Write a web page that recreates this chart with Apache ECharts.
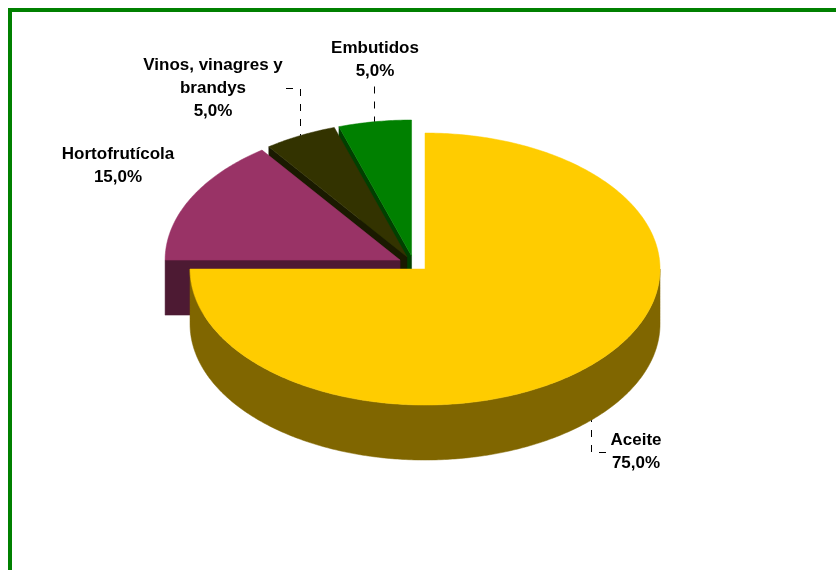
<!DOCTYPE html>
<html>
<head>
<meta charset="utf-8">
<style>html,body{margin:0;padding:0;background:#fff;overflow:hidden}#c{width:836px;height:570px}</style>
<script src="https://cdn.jsdelivr.net/npm/echarts@6/dist/echarts.min.js"></script>
</head>
<body>
<div id="c"></div>
<script>
// Data
const categories = ['Aceite', 'Hortofrutícola', 'Vinos, vinagres y\nbrandys', 'Embutidos'];
const values = [75, 15, 5, 5];

// Styles
const topColors = ['#FFCC00', '#993366', '#333300', '#008000'];
const sideColors = ['#806600', '#4D1A33', '#1A1A00', '#004000'];

// Pie projection
const base = {x: 414, y: 263.6}, rx = 235, ry = 136, depth = 55;
const explodeX = 15.6, explodeY = 7.67;

// Label layout (centre of text block; leader end relative to slice)
const labelPos = [[636, 452], [118, 166], [213, 88.5], [375, 60]];
const leaderY = [452.5, null, 88.5, 86.5]; // vertical run ends at this y
const leaderTick = [14.5, 0, -14.5, 0];    // then a horizontal run of this length

const total = values.reduce((a, b) => a + b, 0);
const rad = d => d * Math.PI / 180;
function sliceGeom(i) {
  let before = 0;
  for (let k = 0; k < i; k++) before += values[k];
  const t0 = before / total * 360, t1 = (before + values[i]) / total * 360, mid = (t0 + t1) / 2;
  const cx = base.x + explodeX * Math.sin(rad(mid));
  const cy = base.y - explodeY * Math.cos(rad(mid));
  const at = (t, dz) => [cx + rx * Math.sin(rad(t)), cy - ry * Math.cos(rad(t)) + (dz || 0)];
  return {t0, t1, mid, cx, cy, at};
}
function arc(g, a, b, dz) {
  const pts = [], n = Math.max(2, Math.ceil((b - a) * 1.5));
  for (let k = 0; k <= n; k++) pts.push(g.at(a + (b - a) * k / n, dz));
  return pts;
}
function poly(points, fill) {
  return {type: 'polygon', shape: {points}, style: {fill, stroke: fill, lineWidth: 0.5}};
}
function renderSlice(params, api) {
  const i = api.value(0);
  const g = sliceGeom(i), side = sideColors[i], c = [g.cx, g.cy];
  const children = [];
  // only the cut faces that turn toward the viewer are drawn
  if (g.t0 >= 180 && g.t0 < 360) children.push(poly([c, g.at(g.t0), g.at(g.t0, depth), [g.cx, g.cy + depth]], side));
  if (g.t1 > 0 && g.t1 < 180) children.push(poly([c, g.at(g.t1), g.at(g.t1, depth), [g.cx, g.cy + depth]], side));
  const a = Math.max(g.t0, 90), b = Math.min(g.t1, 270);
  if (b > a) children.push(poly(arc(g, a, b, 0).concat(arc(g, a, b, depth).reverse()), side));
  children.push(poly([c].concat(arc(g, g.t0, g.t1, 0)), topColors[i]));
  if (leaderY[i] !== null) {
    const wall = g.mid > 90 && g.mid < 270 ? depth : 0;
    const s = g.at(g.mid, wall);
    const x = Math.floor(s[0]) + 0.5;
    children.push({type: 'polyline', z2: 5,
      shape: {points: [[x + leaderTick[i], leaderY[i]], [x, leaderY[i]], [x, s[1]]]},
      style: {fill: null, stroke: '#000', lineWidth: 1, lineDash: [7, 8]}});
  }
  children.push({type: 'text', z2: 10, style: {
    text: categories[i] + '\n' + values[i].toFixed(1).replace('.', ',') + '%',
    x: labelPos[i][0], y: labelPos[i][1], align: 'center', verticalAlign: 'middle',
    font: 'bold 17px "Liberation Sans", Arial, sans-serif', lineHeight: 23, fill: '#000'}});
  return {type: 'group', children};
}

const chart = echarts.init(document.getElementById('c'), null, {renderer: 'canvas'});
chart.setOption({
  animation: false,
  backgroundColor: '#fff',
  graphic: [{type: 'rect', z: 100, silent: true,
    shape: {x: 10, y: 10, width: 1000, height: 800},
    style: {fill: null, stroke: '#008000', lineWidth: 4}}],
  series: [{
    type: 'custom', coordinateSystem: 'none', silent: true,
    renderItem: renderSlice,
    data: values.map((v, i) => [i, v]).reverse(),
    encode: {}
  }]
});
</script>
</body>
</html>
